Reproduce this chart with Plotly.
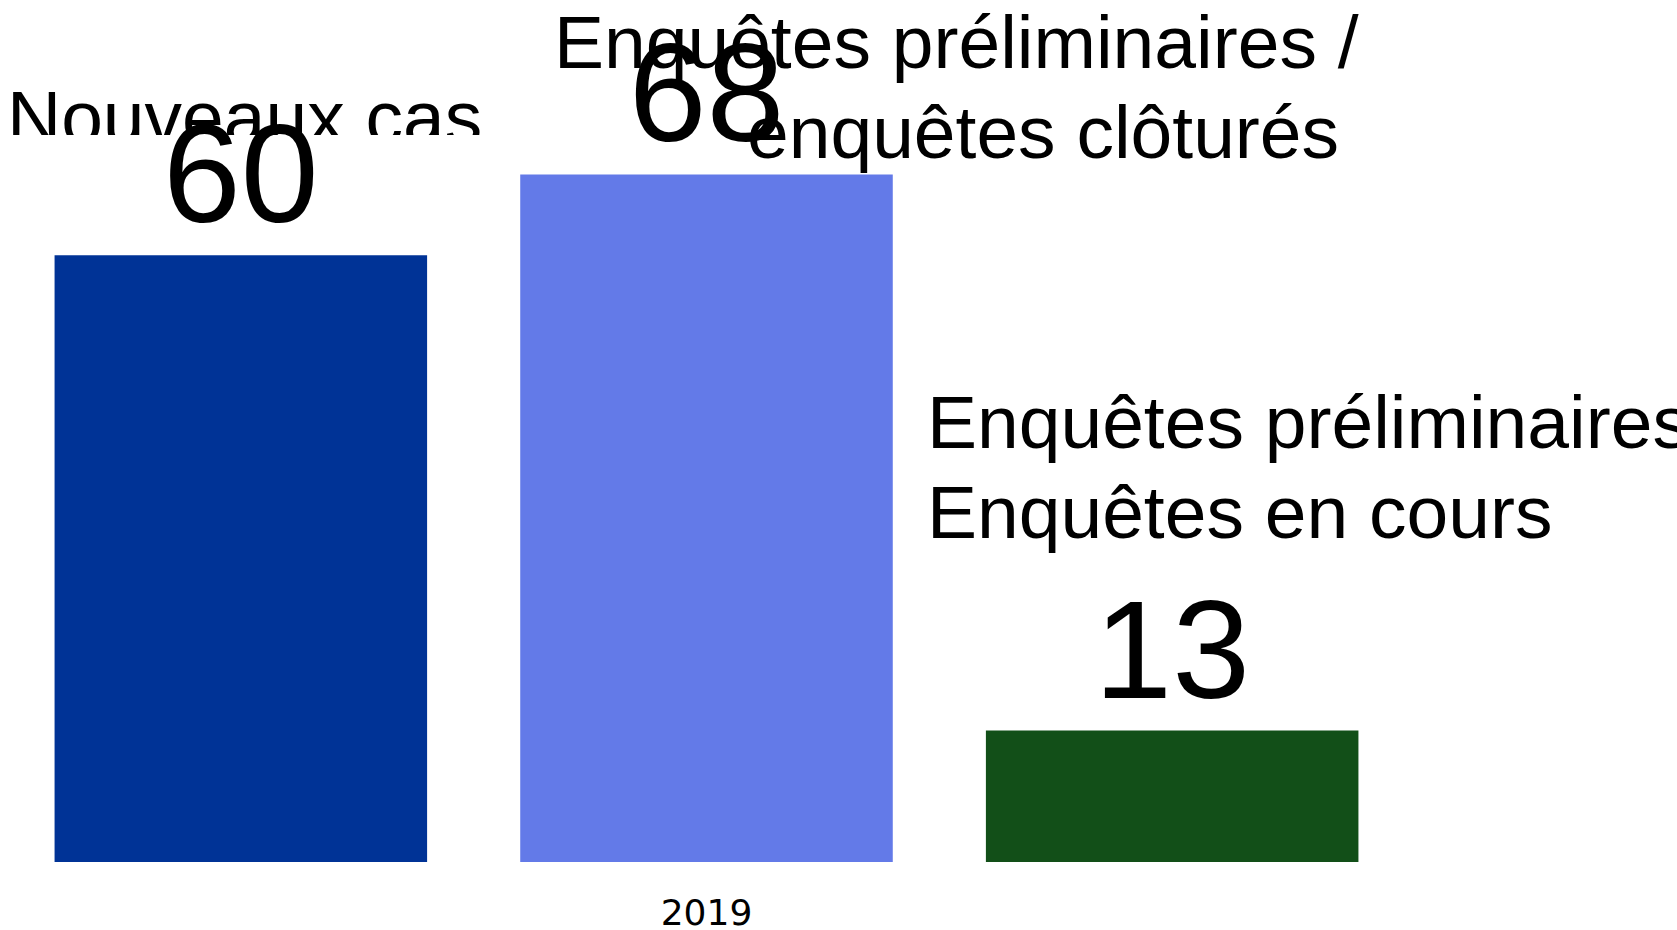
import plotly.graph_objects as go

categories = ["2019"]
series_names = ["Nouveaux cas", "Enquêtes préliminaires / enquêtes clôturés", "Enquêtes préliminaires / Enquêtes en cours"]
values_nouveaux = [60]
values_clotures = [68]
values_en_cours = [13]
colors = ["#003396", "#637AE8", "#124F18"]

W, H = 1677, 930
L, R, T, B = 8, 272, 135, 68
plot_w = W - L - R
plot_h = H - T - B

FONT = "Liberation Sans, Arial, Helvetica, sans-serif"

fig = go.Figure()
for name, vals, col in zip(series_names, [values_nouveaux, values_clotures, values_en_cours], colors):
    fig.add_trace(go.Bar(
        x=categories, y=vals, name=name,
        marker=dict(color=col, line=dict(width=0)),
        text=[str(v) for v in vals], textposition="outside",
        textfont=dict(size=140, color="black", family=FONT),
        cliponaxis=False, constraintext="none",
    ))

def px_x(x):
    return (x - L) / plot_w

def px_y(y):
    return (H - B - y) / plot_h

label_font = dict(size=75, color="black", family=FONT)
annotations = [
    # "Nouveaux cas" clipped at the bottom by the fixed-height box
    dict(text="Nouveaux cas", xref="paper", yref="paper", x=px_x(7), y=px_y(135),
         xanchor="left", yanchor="bottom", height=60, valign="top", align="left",
         showarrow=False, borderwidth=0, borderpad=0, font=label_font),
    dict(text="Enquêtes préliminaires /", xref="paper", yref="paper", x=px_x(554), y=px_y(0),
         xanchor="left", yanchor="top", showarrow=False, borderwidth=0, borderpad=0, font=label_font),
    dict(text="enquêtes clôturés", xref="paper", yref="paper", x=px_x(747), y=px_y(90),
         xanchor="left", yanchor="top", showarrow=False, borderwidth=0, borderpad=0, font=label_font),
    dict(text="Enquêtes préliminaires /", xref="paper", yref="paper", x=px_x(927), y=px_y(380),
         xanchor="left", yanchor="top", showarrow=False, borderwidth=0, borderpad=0, font=label_font),
    dict(text="Enquêtes en cours", xref="paper", yref="paper", x=px_x(927), y=px_y(470),
         xanchor="left", yanchor="top", showarrow=False, borderwidth=0, borderpad=0, font=label_font),
]

fig.update_layout(
    width=W, height=H,
    margin=dict(l=L, r=R, t=T, b=B, pad=0, autoexpand=False),
    paper_bgcolor="white", plot_bgcolor="white",
    barmode="group", bargap=0.0, bargroupgap=0.2,
    showlegend=False,
    annotations=annotations,
    font=dict(family=FONT, color="black"),
)
fig.update_xaxes(range=[-0.5, 0.5], showgrid=False, zeroline=False, showline=False, ticks="",
                 tickfont=dict(size=36, family="DejaVu Sans", color="black"),
                 ticklabelstandoff=26, automargin=False)
fig.update_yaxes(range=[0, 71.9], showgrid=False, zeroline=False, showline=False,
                 showticklabels=False, ticks="", automargin=False)

fig.write_html("out.html",
               config={"displayModeBar": False},
               post_script="document.body.style.margin='0';document.body.style.overflow='hidden';")
